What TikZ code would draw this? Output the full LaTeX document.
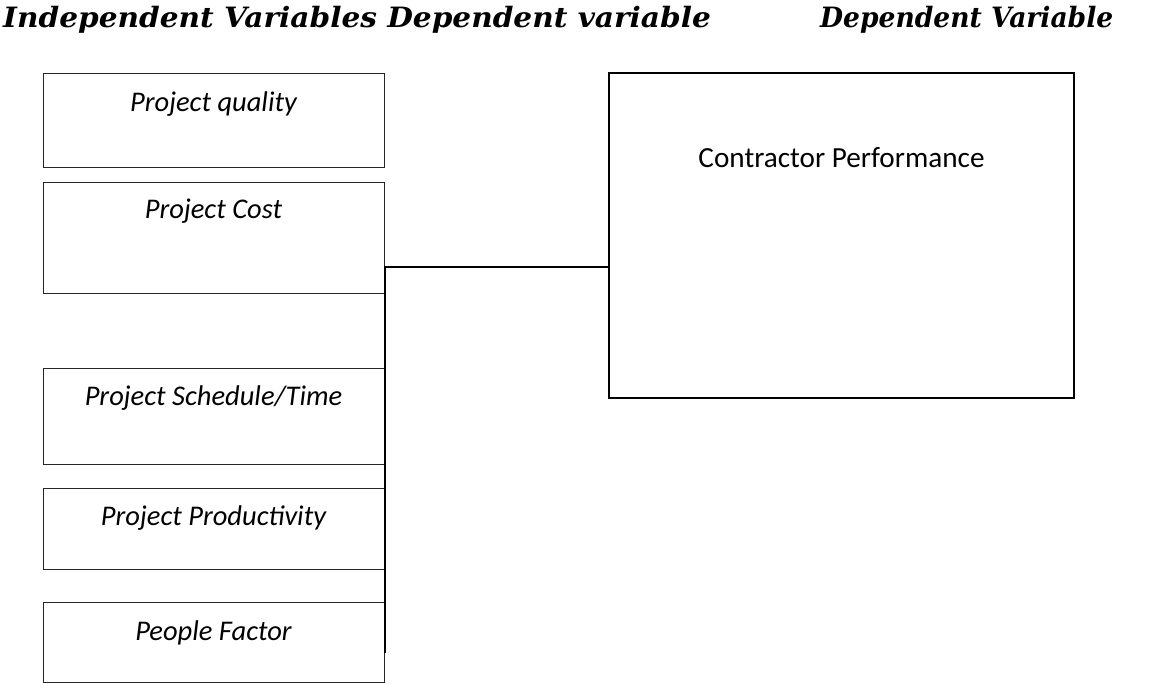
\documentclass[tikz,border=0pt]{standalone}
\usepackage{fontspec}
\newfontfamily\calib{Carlito}
\newfontfamily\ttlfont{DejaVu Serif}
\begin{document}
\begin{tikzpicture}[x=1pt,y=-1pt,
  box/.style={draw=black!85, line width=0.9pt, minimum width=341pt, inner sep=0pt},
  lab/.style={font=\calib\itshape\fontsize{28.5}{33}\selectfont, inner sep=0pt, anchor=base},
  conn/.style={draw=black, line width=1.4pt},
  ttl/.style={font=\ttlfont\bfseries\itshape\fontsize{28}{32}\selectfont, inner sep=0pt, anchor=base west}]
\useasboundingbox (0,0) rectangle (1174,683);
\node[ttl] (t1) at (3,27) {\scalebox{1.057}[1]{Independent Variables Dependent variable}};
\node[ttl] (t2) at (820,27) {\scalebox{0.948}[1]{Dependent Variable}};
\node[box, minimum height=94pt] (q) at (213.5,120) {};
\node[box, minimum height=111pt] (c) at (213.5,237.5) {};
\node[box, minimum height=96pt] (s) at (213.5,416) {};
\node[box, minimum height=81pt] (p) at (213.5,528.5) {};
\node[box, minimum height=80pt] (f) at (213.5,642) {};
\node[lab] (lq) at (213.5,111) {Project quality};
\node[lab] (lc) at (213.5,218) {Project Cost};
\node[lab] (ls) at (213.5,405) {Project Schedule/Time};
\node[lab] (lp) at (213.5,525) {Project Productivity};
\node[lab] (lf) at (213.5,640) {People Factor};
\node[draw=black, line width=1.3pt, minimum width=465pt, minimum height=325pt, inner sep=0pt] (perf) at (841.5,235.5) {};
\node[font=\calib\fontsize{29.2}{33}\selectfont, inner sep=0pt, anchor=base] (lperf) at (841.5,167) {Contractor Performance};
\coordinate (j) at (385,267);
\coordinate (e) at (385,653);
\draw[conn] (e) -- (j) -- (perf.west |- j);
\end{tikzpicture}
\end{document}
